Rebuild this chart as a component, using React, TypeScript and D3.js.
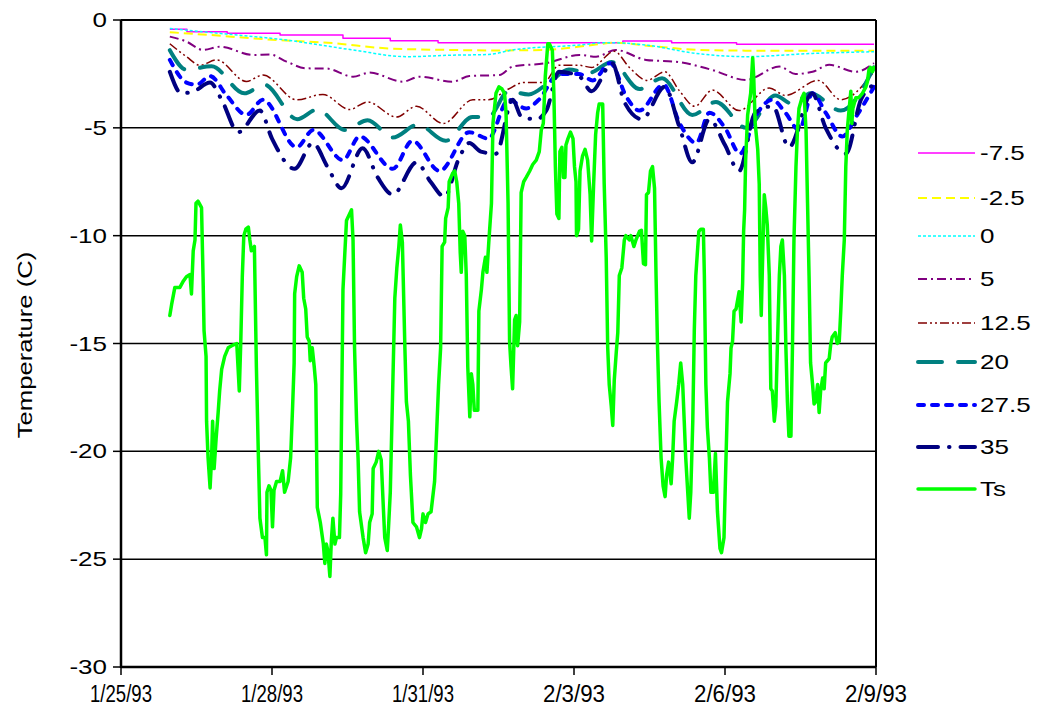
import React from "react";
import * as d3 from "d3";

// time is in days after 1/25/93 00:00, temperatures in C
const startDate = new Date(1993, 0, 25);
const xTickDays = [0, 3, 6, 9, 12, 15];
const yTicks = [0, -5, -10, -15, -20, -25, -30];
const depthLabels = ["-7.5", "-2.5", "0", "5", "12.5", "20", "27.5", "35", "Ts"];

const d_m75: [number, number][] = [
  [0.97, -0.43], [1.31, -0.54], [2.11, -0.62], [3.16, -0.7], [4.41, -0.85], [5.35, -0.96],
  [6.3, -1.05], [9.97, -0.97], [10.94, -1.05], [12.23, -1.13], [14.96, -1.13],
];

const d_m25: [number, number][] = [
  [0.97, -0.57], [1.8, -0.7], [2.9, -0.9], [4.25, -1.08], [5.25, -1.31], [6.55, -1.39], [7.5, -1.41],
  [8.4, -1.39], [9.4, -1.15], [9.8, -1.05], [10.5, -1.2], [11.5, -1.39], [12.4, -1.42], [14.96, -1.42],
];

const d_0: [number, number][] = [
  [0.97, -0.39], [1.96, -0.62], [3.29, -0.93], [4.61, -1.39], [5.67, -1.7], [6.59, -1.63], [7.3, -1.6],
  [7.78, -1.39], [9.11, -1.16], [9.64, -1.05], [10.43, -1.16], [11.42, -1.55], [12.41, -1.7],
  [13.74, -1.55], [14.96, -1.47],
];

const d_5: [number, number][] = [
  [0.97, -0.77], [1.3, -1.0], [1.63, -1.39], [1.96, -1.24], [2.63, -1.62], [2.96, -1.6], [3.29, -1.93],
  [3.68, -2.24], [4.08, -2.25], [4.61, -2.63], [4.94, -2.44], [5.6, -2.86], [5.93, -2.63], [6.59, -2.86],
  [6.92, -2.6], [7.52, -2.55], [7.78, -2.16], [8.45, -2.0], [9.11, -1.62], [9.44, -1.7], [9.83, -1.39],
  [10.43, -1.85], [11.09, -1.95], [11.75, -2.32], [12.41, -2.78], [13.08, -2.16], [13.4, -2.5],
  [13.74, -2.4], [14.07, -2.08], [14.6, -2.4], [14.96, -2.0],
];

const d_125: [number, number][] = [
  [0.97, -1.1], [1.3, -1.7], [1.57, -2.1], [1.9, -1.85], [2.49, -2.85], [2.82, -2.55], [3.49, -3.7],
  [4.01, -3.45], [4.54, -4.15], [4.9, -3.8], [5.47, -4.5], [5.87, -4.0], [6.4, -4.8], [6.99, -3.7],
  [7.3, -3.7], [7.7, -3.2], [8.0, -2.9], [8.4, -2.9], [8.7, -2.1], [9.1, -2.1], [9.35, -2.2], [9.8, -1.45],
  [10.1, -2.2], [10.45, -2.8], [10.8, -2.4], [11.1, -3.3], [11.4, -4.0], [11.75, -3.25], [12.28, -4.2],
  [12.88, -3.15], [13.2, -3.5], [13.85, -2.8], [14.3, -3.7], [14.96, -2.4],
];

const d_20: [number, number][] = [
  [0.97, -1.4], [1.3, -2.3], [1.8, -2.15], [2.45, -3.4], [2.85, -3.0], [3.5, -4.6], [3.9, -4.15],
  [4.45, -5.1], [4.9, -4.65], [5.4, -5.45], [5.9, -4.85], [6.45, -5.6], [6.98, -4.5], [7.3, -4.5],
  [7.7, -3.3], [8.1, -3.45], [8.5, -2.9], [8.9, -2.3], [9.3, -2.45], [9.75, -1.95], [10.3, -3.2],
  [10.75, -2.7], [11.35, -4.4], [11.82, -3.8], [12.42, -5.0], [13.0, -3.5], [13.35, -3.9], [13.7, -3.4],
  [14.3, -4.2], [14.96, -2.2],
];

const d_275: [number, number][] = [
  [0.97, -1.85], [1.3, -2.9], [1.5, -3.0], [1.77, -2.6], [2.1, -3.5], [2.49, -4.4], [2.82, -3.7],
  [3.49, -5.9], [3.82, -5.1], [4.41, -6.5], [4.74, -5.4], [5.4, -6.9], [5.79, -5.6], [6.33, -7.0],
  [6.92, -5.2], [7.3, -5.5], [7.7, -3.7], [8.05, -4.1], [8.3, -3.7], [8.7, -2.5], [9.1, -2.5],
  [9.37, -2.8], [9.72, -2.0], [10.05, -3.6], [10.3, -4.2], [10.78, -3.0], [11.1, -4.8], [11.43, -5.7],
  [11.69, -4.3], [12.0, -5.0], [12.3, -6.2], [12.6, -4.5], [12.94, -3.7], [13.2, -4.3], [13.47, -5.1],
  [13.74, -3.4], [14.0, -4.3], [14.33, -5.4], [14.6, -4.5], [14.96, -3.1],
];

const d_35: [number, number][] = [
  [0.97, -2.4], [1.2, -3.4], [1.45, -3.3], [1.77, -2.9], [2.0, -3.7], [2.33, -5.2], [2.76, -4.2],
  [3.0, -5.5], [3.45, -6.9], [3.81, -5.7], [4.1, -6.8], [4.38, -7.8], [4.8, -5.95], [5.1, -7.3],
  [5.4, -8.1], [5.87, -6.6], [6.15, -7.5], [6.43, -8.2], [6.7, -6.5], [6.92, -5.7], [7.15, -6.1],
  [7.45, -6.2], [7.78, -3.7], [7.96, -4.5], [8.25, -4.6], [8.45, -4.2], [8.7, -2.4], [9.1, -2.6],
  [9.35, -3.3], [9.76, -2.0], [10.0, -3.8], [10.35, -4.6], [10.8, -3.1], [11.1, -5.0], [11.35, -6.6],
  [11.69, -4.6], [12.0, -5.8], [12.28, -7.0], [12.6, -4.3], [12.95, -4.0], [13.27, -5.9], [13.73, -3.4],
  [14.0, -5.0], [14.4, -6.2], [14.7, -3.7], [14.96, -3.0],
];

const d_ts: [number, number][] = [
  [0.97, -13.7], [1.005, -13.2], [1.07, -12.4], [1.17, -12.4], [1.24, -12.1], [1.3, -11.9], [1.37, -11.8],
  [1.4, -12.7], [1.435, -10.7], [1.47, -10.2], [1.49, -8.5], [1.53, -8.4], [1.6, -8.7], [1.63, -11.9],
  [1.65, -14.4], [1.69, -15.6], [1.7, -18.6], [1.73, -20.3], [1.77, -21.7], [1.8, -20.3], [1.82, -18.6],
  [1.85, -20.8], [1.89, -19.4], [1.93, -18.2], [1.96, -17.2], [2.0, -16.2], [2.06, -15.6], [2.13, -15.2],
  [2.2, -15.1], [2.3, -15.0], [2.35, -17.2], [2.38, -14.9], [2.41, -11.9], [2.44, -10.0], [2.48, -9.7],
  [2.53, -9.6], [2.56, -10.2], [2.59, -10.7], [2.65, -10.5], [2.69, -16.1], [2.73, -20.3], [2.76, -23.1],
  [2.81, -24.0], [2.86, -24.0], [2.89, -24.8], [2.9, -21.9], [2.94, -21.6], [2.98, -21.8], [3.01, -23.5],
  [3.04, -21.8], [3.09, -21.4], [3.16, -21.4], [3.21, -20.9], [3.25, -21.9], [3.32, -21.4], [3.37, -20.3],
  [3.41, -17.9], [3.44, -15.9], [3.45, -12.7], [3.49, -11.9], [3.54, -11.4], [3.6, -11.7], [3.63, -12.9],
  [3.67, -13.4], [3.7, -14.7], [3.74, -14.9], [3.76, -15.8], [3.8, -15.2], [3.84, -16.1], [3.87, -16.9],
  [3.9, -22.6], [3.96, -23.3], [4.02, -24.3], [4.05, -25.2], [4.08, -24.3], [4.11, -24.6], [4.15, -25.8],
  [4.18, -24.1], [4.21, -23.1], [4.25, -24.3], [4.28, -24.0], [4.34, -24.0], [4.365, -22.0], [4.41, -12.5],
  [4.48, -9.3], [4.58, -8.8], [4.61, -10.2], [4.64, -15.2], [4.68, -18.6], [4.71, -20.3], [4.74, -22.8],
  [4.81, -24.0], [4.86, -24.7], [4.91, -24.3], [4.94, -23.3], [4.99, -22.9], [5.01, -20.8], [5.07, -20.5],
  [5.12, -20.0], [5.17, -20.4], [5.21, -22.5], [5.24, -24.0], [5.29, -24.6], [5.32, -23.3], [5.35, -21.9],
  [5.4, -16.9], [5.44, -12.9], [5.48, -11.5], [5.52, -10.5], [5.55, -9.5], [5.59, -10.3], [5.64, -15.2],
  [5.67, -17.7], [5.71, -18.6], [5.75, -21.1], [5.8, -23.3], [5.87, -23.5], [5.93, -24.0], [5.97, -23.6],
  [6.0, -22.9], [6.05, -23.3], [6.1, -22.9], [6.16, -22.8], [6.23, -21.4], [6.28, -18.6], [6.31, -16.9],
  [6.35, -15.2], [6.38, -10.5], [6.43, -10.3], [6.45, -9.2], [6.5, -8.7], [6.52, -7.5], [6.59, -7.1],
  [6.63, -7.0], [6.67, -7.5], [6.71, -8.5], [6.74, -10.8], [6.76, -11.7], [6.79, -9.8], [6.83, -10.0],
  [6.86, -11.85], [6.89, -16.1], [6.93, -18.4], [6.96, -16.4], [6.99, -16.9], [7.02, -18.1], [7.09, -18.1],
  [7.11, -13.5], [7.16, -12.5], [7.19, -11.7], [7.24, -11.0], [7.27, -11.7], [7.31, -10.2], [7.36, -8.5],
  [7.39, -4.8], [7.42, -4.1], [7.45, -3.4], [7.51, -3.1], [7.57, -3.2], [7.62, -3.4], [7.65, -4.3],
  [7.69, -8.5], [7.72, -14.9], [7.75, -16.1], [7.78, -17.1], [7.82, -13.9], [7.85, -13.7], [7.88, -15.1],
  [7.92, -14.0], [7.95, -8.0], [8.0, -7.5], [8.05, -7.3], [8.12, -7.0], [8.18, -6.7], [8.25, -6.5],
  [8.31, -6.1], [8.35, -5.1], [8.39, -4.8], [8.43, -2.6], [8.48, -1.1], [8.51, -1.1], [8.57, -1.4],
  [8.6, -3.4], [8.63, -6.8], [8.66, -9.0], [8.7, -9.2], [8.72, -6.1], [8.76, -5.9], [8.79, -7.3],
  [8.82, -7.3], [8.84, -5.8], [8.88, -5.5], [8.93, -5.2], [8.98, -5.5], [9.01, -6.8], [9.04, -7.5],
  [9.05, -10.0], [9.09, -9.7], [9.12, -7.0], [9.17, -6.3], [9.22, -6.0], [9.27, -6.5], [9.32, -8.1],
  [9.35, -10.25], [9.39, -7.6], [9.43, -5.3], [9.47, -4.3], [9.5, -3.9], [9.57, -3.9], [9.6, -7.6],
  [9.64, -11.0], [9.67, -15.2], [9.7, -16.9], [9.74, -17.9], [9.77, -18.8], [9.8, -16.7], [9.84, -15.4],
  [9.87, -14.5], [9.9, -11.85], [9.95, -11.5], [10.0, -10.2], [10.03, -10.0], [10.1, -10.2], [10.13, -10.0],
  [10.19, -10.5], [10.23, -10.2], [10.3, -9.8], [10.34, -9.75], [10.38, -11.3], [10.42, -11.35], [10.44, -8.1],
  [10.48, -8.0], [10.52, -7.0], [10.56, -6.8], [10.6, -7.8], [10.63, -11.85], [10.66, -15.2], [10.69, -17.7],
  [10.73, -20.3], [10.77, -21.6], [10.81, -22.1], [10.84, -21.1], [10.88, -20.5], [10.93, -21.5],
  [10.96, -20.3], [10.99, -18.6], [11.04, -17.7], [11.08, -16.9], [11.12, -15.9], [11.16, -16.9],
  [11.19, -18.6], [11.22, -20.3], [11.26, -21.9], [11.29, -23.1], [11.32, -21.9], [11.36, -18.6],
  [11.39, -14.4], [11.42, -11.85], [11.48, -9.8], [11.52, -9.7], [11.57, -9.7], [11.59, -11.85],
  [11.62, -16.9], [11.65, -18.9], [11.69, -20.3], [11.72, -21.9], [11.77, -21.9], [11.81, -20.1],
  [11.85, -22.8], [11.9, -24.5], [11.93, -24.7], [11.98, -24.0], [12.02, -20.3], [12.05, -17.7],
  [12.1, -16.4], [12.12, -15.2], [12.15, -14.9], [12.18, -13.5], [12.22, -13.4], [12.25, -13.0],
  [12.28, -12.6], [12.32, -14.0], [12.35, -12.2], [12.37, -9.8], [12.39, -8.8], [12.41, -6.5], [12.45, -4.4],
  [12.48, -3.9], [12.51, -3.4], [12.55, -1.75], [12.57, -2.6], [12.6, -4.8], [12.65, -6.0], [12.68, -7.6],
  [12.7, -11.85], [12.72, -13.7], [12.75, -10.8], [12.78, -8.1], [12.81, -8.7], [12.84, -9.5],
  [12.88, -11.85], [12.91, -17.1], [12.94, -17.2], [12.98, -18.6], [13.01, -17.9], [13.04, -15.2],
  [13.08, -11.85], [13.11, -10.5], [13.14, -10.2], [13.18, -11.85], [13.21, -15.2], [13.24, -17.7],
  [13.27, -19.3], [13.31, -19.3], [13.34, -15.2], [13.37, -10.2], [13.41, -6.8], [13.44, -5.1], [13.47, -4.1],
  [13.53, -3.6], [13.57, -3.4], [13.61, -5.1], [13.64, -8.5], [13.67, -11.85], [13.7, -15.9], [13.74, -16.9],
  [13.77, -17.8], [13.8, -17.7], [13.84, -16.9], [13.87, -18.2], [13.9, -17.2], [13.94, -16.6],
  [13.97, -17.1], [14.0, -15.9], [14.07, -15.7], [14.1, -15.05], [14.13, -14.7], [14.19, -14.5],
  [14.23, -15.0], [14.27, -14.9], [14.3, -13.5], [14.33, -11.85], [14.37, -10.2], [14.4, -6.8], [14.43, -5.1],
  [14.46, -4.3], [14.5, -3.3], [14.52, -4.8], [14.54, -4.1], [14.6, -3.6], [14.66, -3.6], [14.73, -3.4],
  [14.8, -3.1], [14.83, -2.85], [14.86, -2.3], [14.89, -2.2], [14.93, -2.4], [14.96, -2.2],
];

const seriesData = [d_m75, d_m25, d_0, d_5, d_125, d_20, d_275, d_35, d_ts];

const styles = [
  { color: "#FF00FF", width: 1.5, dash: "none", cap: "butt" },
  { color: "#FFFF00", width: 2, dash: "9 5", cap: "butt" },
  { color: "#00FFFF", width: 1.5, dash: "3 2", cap: "butt" },
  { color: "#800080", width: 2, dash: "9 4 2 4", cap: "butt" },
  { color: "#800000", width: 1.5, dash: "9 3 2 3 2 3", cap: "butt" },
  { color: "#008080", width: 4, dash: "24 16", cap: "round" },
  { color: "#0000FF", width: 4, dash: "6 8", cap: "round" },
  { color: "#000080", width: 4, dash: "20 11 0.5 11", cap: "round" },
  { color: "#00FF00", width: 3.5, dash: "none", cap: "round" },
];

const dayToDate = (d: number) => new Date(startDate.getTime() + d * 864e5);

export default function App() {
  const W = 1053, H = 713;
  const left = 121, right = 876, top = 20, bottom = 667;

  const x = d3.scaleTime()
    .domain([dayToDate(0), dayToDate(15)])
    .range([left, right]);
  const y = d3.scaleLinear().domain([-30, 0]).range([bottom, top]);

  const fmt = d3.timeFormat("%-m/%-d/%y");

  const makeLine = (i: number) => {
    const gen = d3.line<[number, number]>()
      .x(d => x(dayToDate(d[0])))
      .y(d => y(d[1]));
    if (i === 0) gen.curve(d3.curveStepAfter);
    else if (i < 8) gen.curve(d3.curveMonotoneX);
    return gen(seriesData[i]) || "";
  };

  const legendY = [153, 198, 236, 279, 323, 362, 405, 447, 489];
  const font = "Arial, 'Liberation Sans', sans-serif";

  return (
    <svg width={W} height={H} style={{ position: "absolute", left: 0, top: 0, background: "#fff" }}
      fontFamily={font}>
      <rect width={W} height={H} fill="#fff" />
      {/* gridlines */}
      {yTicks.filter(t => t !== 0 && t !== -30).map(t => (
        <line key={t} x1={left} x2={right} y1={y(t)} y2={y(t)} stroke="#000" strokeWidth={1.5} />
      ))}

      {/* series */}
      {seriesData.map((_, i) => (
        <path key={i} d={makeLine(i)} fill="none" stroke={styles[i].color}
          strokeWidth={styles[i].width} strokeDasharray={styles[i].dash}
          strokeLinejoin="round" strokeLinecap={styles[i].cap as any} />
      ))}

      {/* frame */}
      <line x1={left} x2={right} y1={top} y2={top} stroke="#000" strokeWidth={2} />
      <line x1={right} x2={right} y1={top} y2={bottom} stroke="#000" strokeWidth={2} />
      <line x1={left} x2={left} y1={top} y2={bottom + 1} stroke="#000" strokeWidth={2.5} />
      <line x1={left} x2={right} y1={bottom} y2={bottom} stroke="#000" strokeWidth={2.5} />

      {/* y axis */}
      {yTicks.map(t => (
        <g key={t}>
          <line x1={left - 8} x2={left} y1={y(t)} y2={y(t)} stroke="#000" strokeWidth={1.5} />
          <text transform={`translate(${left - 14},${y(t) + 7}) scale(1.3,1)`} textAnchor="end"
            fontSize={20} fill="#000">{t}</text>
        </g>
      ))}
      <text transform={`translate(32,345) rotate(-90) scale(1.28,1)`} textAnchor="middle" fontSize={20} fill="#000">
        Temperature  (C)
      </text>

      {/* x axis */}
      {xTickDays.map(d => (
        <g key={d}>
          <line x1={x(dayToDate(d))} x2={x(dayToDate(d))} y1={bottom} y2={bottom + 8} stroke="#000" strokeWidth={1.5} />
          <text x={x(dayToDate(d))} y={702} textAnchor="middle" fontSize={23} fill="#000"
            textLength={62} lengthAdjust="spacingAndGlyphs">{fmt(dayToDate(d))}</text>
        </g>
      ))}

      {/* legend */}
      {depthLabels.map((lab, i) => (
        <g key={lab}>
          <line x1={918} x2={975} y1={legendY[i]} y2={legendY[i]} stroke={styles[i].color}
            strokeWidth={styles[i].width} strokeDasharray={styles[i].dash} strokeLinecap={styles[i].cap as any} />
          <text transform={`translate(980,${legendY[i] + 7}) scale(1.3,1)`} fontSize={20} fill="#000">{lab}</text>
        </g>
      ))}
    </svg>
  );
}
